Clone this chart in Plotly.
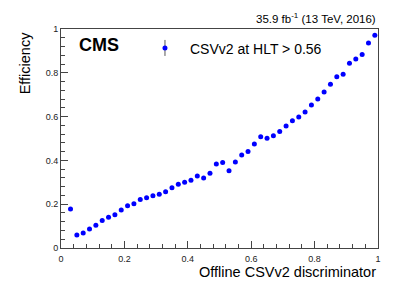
import plotly.graph_objects as go

# Data
disc_bins = [0.03, 0.05, 0.07, 0.09, 0.11, 0.13, 0.15, 0.17, 0.19, 0.21,
             0.23, 0.25, 0.27, 0.29, 0.31, 0.33, 0.35, 0.37, 0.39, 0.41,
             0.43, 0.45, 0.47, 0.49, 0.51, 0.53, 0.55, 0.57, 0.59, 0.61,
             0.63, 0.65, 0.67, 0.69, 0.71, 0.73, 0.75, 0.77, 0.79, 0.81,
             0.83, 0.85, 0.87, 0.89, 0.91, 0.93, 0.95, 0.97, 0.99]
efficiency = [0.178, 0.059, 0.068, 0.087, 0.104, 0.126, 0.140, 0.152, 0.174, 0.193,
              0.202, 0.221, 0.230, 0.239, 0.245, 0.257, 0.275, 0.291, 0.300, 0.309,
              0.329, 0.320, 0.341, 0.384, 0.390, 0.353, 0.393, 0.425, 0.441, 0.475,
              0.508, 0.501, 0.512, 0.532, 0.557, 0.581, 0.598, 0.621, 0.653, 0.680,
              0.712, 0.748, 0.782, 0.793, 0.844, 0.863, 0.883, 0.936, 0.971]
tick_vals = [0, 0.2, 0.4, 0.6, 0.8, 1]
tick_text = ["0", "0.2", "0.4", "0.6", "0.8", "1"]
series_name = "CSVv2 at HLT > 0.56"

FONT = "Liberation Sans, Arial, Helvetica, sans-serif"
BLUE = "#0000ff"

fig = go.Figure()
fig.add_trace(go.Scatter(
    x=disc_bins, y=efficiency, mode="markers", name=series_name,
    marker=dict(color=BLUE, size=5, symbol="circle"),
    showlegend=False,
))

axis_common = dict(
    range=[0, 1], showgrid=False, zeroline=False,
    showline=True, linecolor="#444444", linewidth=1, mirror=True,
    ticks="inside", ticklen=7, tickcolor="#444444", tickwidth=1,
    tickvals=tick_vals, ticktext=tick_text,
    tickfont=dict(family=FONT, size=9, color="#222222"),
    minor=dict(ticks="inside", ticklen=4, dtick=0.04, tickcolor="#444444", tickwidth=1),
)

fig.update_layout(
    width=407, height=293,
    margin=dict(l=61, r=29, t=29, b=45),
    paper_bgcolor="white", plot_bgcolor="white",
    font=dict(family=FONT, color="black"),
    xaxis=dict(**axis_common),
    yaxis=dict(**axis_common),
)
fig.update_xaxes(ticklabelstandoff=2)

annotations = [
    dict(text="35.9 fb<sup>-1</sup> (13 TeV, 2016)", x=1.0, y=1.05, xref="paper", yref="paper",
         xanchor="right", yanchor="middle", showarrow=False,
         font=dict(family=FONT, size=11.5, color="black")),
    dict(text="<b>CMS</b>", x=0.052, y=0.927, xref="paper", yref="paper",
         xanchor="left", yanchor="middle", showarrow=False,
         font=dict(family=FONT, size=18, color="black")),
    dict(text=series_name, x=0.40, y=0.909, xref="paper", yref="paper",
         xanchor="left", yanchor="middle", showarrow=False,
         font=dict(family=FONT, size=14, color="black")),
    dict(text="Offline CSVv2 discriminator", x=1.0, y=-0.11, xref="paper", yref="paper",
         xanchor="right", yanchor="middle", showarrow=False,
         font=dict(family=FONT, size=14.5, color="black")),
    dict(text="Efficiency", x=-0.114, y=1.0, xref="paper", yref="paper",
         xanchor="center", yanchor="top", textangle=-90, showarrow=False,
         font=dict(family=FONT, size=14.5, color="black")),
]
fig.update_layout(annotations=annotations)

# Legend symbol (marker with error bar), drawn manually
fig.add_shape(type="line", xref="paper", yref="paper",
              x0=0.328, x1=0.328, y0=0.877, y1=0.950,
              line=dict(color="#555555", width=1))
fig.add_shape(type="circle", xref="paper", yref="paper",
              xsizemode="pixel", ysizemode="pixel", xanchor=0.328, yanchor=0.913,
              x0=-2.5, x1=2.5, y0=-2.5, y1=2.5,
              fillcolor=BLUE, line=dict(color=BLUE, width=0))

fig.write_html("out.html", config={"displayModeBar": False},
               post_script="document.body.style.margin='0';document.body.style.padding='0';")
